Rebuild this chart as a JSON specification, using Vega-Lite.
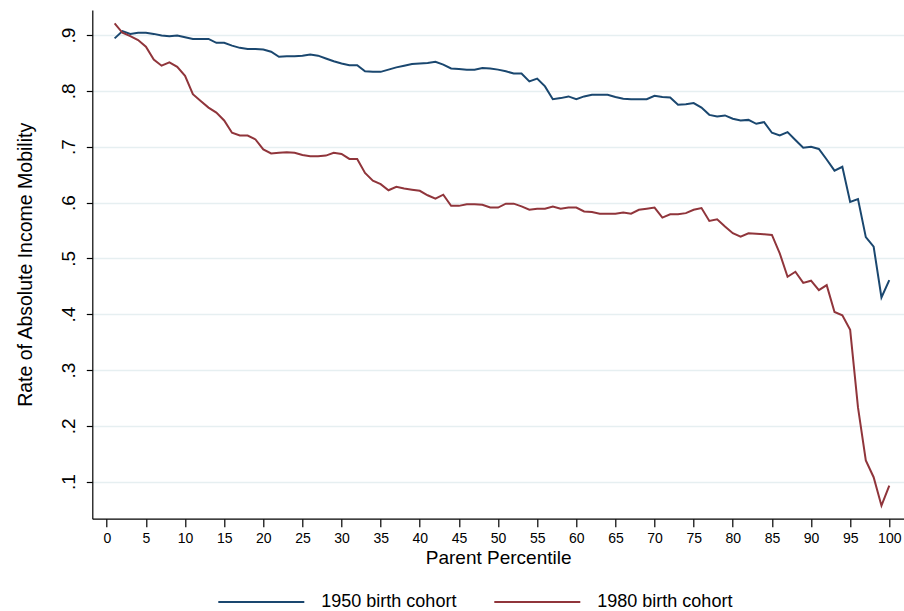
{
  "$schema": "https://vega.github.io/schema/vega-lite/v6.json",
  "autosize": {"type": "none"},
  "padding": {"left": 92.3, "top": 10, "right": 0, "bottom": 92.3},
  "width": 811.7,
  "height": 508.7,
  "background": "white",
  "config": {
    "font": "Liberation Sans",
    "view": {"stroke": null},
    "axis": {"labelFont": "Liberation Sans", "titleFont": "Liberation Sans", "labelColor": "#000", "titleColor": "#000", "titleFontWeight": "normal", "domainColor": "#000", "tickColor": "#000"}
  },
  "data": {
    "values": [
      {"cohort":"1950 birth cohort","p":1,"v":0.894},{"cohort":"1950 birth cohort","p":2,"v":0.907},{"cohort":"1950 birth cohort","p":3,"v":0.902},{"cohort":"1950 birth cohort","p":4,"v":0.904},{"cohort":"1950 birth cohort","p":5,"v":0.904},
      {"cohort":"1950 birth cohort","p":6,"v":0.902},{"cohort":"1950 birth cohort","p":7,"v":0.899},{"cohort":"1950 birth cohort","p":8,"v":0.898},{"cohort":"1950 birth cohort","p":9,"v":0.899},{"cohort":"1950 birth cohort","p":10,"v":0.896},
      {"cohort":"1950 birth cohort","p":11,"v":0.893},{"cohort":"1950 birth cohort","p":12,"v":0.893},{"cohort":"1950 birth cohort","p":13,"v":0.893},{"cohort":"1950 birth cohort","p":14,"v":0.886},{"cohort":"1950 birth cohort","p":15,"v":0.886},
      {"cohort":"1950 birth cohort","p":16,"v":0.881},{"cohort":"1950 birth cohort","p":17,"v":0.877},{"cohort":"1950 birth cohort","p":18,"v":0.875},{"cohort":"1950 birth cohort","p":19,"v":0.875},{"cohort":"1950 birth cohort","p":20,"v":0.874},
      {"cohort":"1950 birth cohort","p":21,"v":0.870},{"cohort":"1950 birth cohort","p":22,"v":0.861},{"cohort":"1950 birth cohort","p":23,"v":0.862},{"cohort":"1950 birth cohort","p":24,"v":0.862},{"cohort":"1950 birth cohort","p":25,"v":0.863},
      {"cohort":"1950 birth cohort","p":26,"v":0.865},{"cohort":"1950 birth cohort","p":27,"v":0.863},{"cohort":"1950 birth cohort","p":28,"v":0.858},{"cohort":"1950 birth cohort","p":29,"v":0.853},{"cohort":"1950 birth cohort","p":30,"v":0.849},
      {"cohort":"1950 birth cohort","p":31,"v":0.846},{"cohort":"1950 birth cohort","p":32,"v":0.846},{"cohort":"1950 birth cohort","p":33,"v":0.835},{"cohort":"1950 birth cohort","p":34,"v":0.834},{"cohort":"1950 birth cohort","p":35,"v":0.834},
      {"cohort":"1950 birth cohort","p":36,"v":0.838},{"cohort":"1950 birth cohort","p":37,"v":0.842},{"cohort":"1950 birth cohort","p":38,"v":0.845},{"cohort":"1950 birth cohort","p":39,"v":0.848},{"cohort":"1950 birth cohort","p":40,"v":0.849},
      {"cohort":"1950 birth cohort","p":41,"v":0.850},{"cohort":"1950 birth cohort","p":42,"v":0.852},{"cohort":"1950 birth cohort","p":43,"v":0.847},{"cohort":"1950 birth cohort","p":44,"v":0.840},{"cohort":"1950 birth cohort","p":45,"v":0.839},
      {"cohort":"1950 birth cohort","p":46,"v":0.838},{"cohort":"1950 birth cohort","p":47,"v":0.838},{"cohort":"1950 birth cohort","p":48,"v":0.841},{"cohort":"1950 birth cohort","p":49,"v":0.840},{"cohort":"1950 birth cohort","p":50,"v":0.838},
      {"cohort":"1950 birth cohort","p":51,"v":0.835},{"cohort":"1950 birth cohort","p":52,"v":0.831},{"cohort":"1950 birth cohort","p":53,"v":0.831},{"cohort":"1950 birth cohort","p":54,"v":0.817},{"cohort":"1950 birth cohort","p":55,"v":0.822},
      {"cohort":"1950 birth cohort","p":56,"v":0.808},{"cohort":"1950 birth cohort","p":57,"v":0.785},{"cohort":"1950 birth cohort","p":58,"v":0.787},{"cohort":"1950 birth cohort","p":59,"v":0.790},{"cohort":"1950 birth cohort","p":60,"v":0.785},
      {"cohort":"1950 birth cohort","p":61,"v":0.790},{"cohort":"1950 birth cohort","p":62,"v":0.793},{"cohort":"1950 birth cohort","p":63,"v":0.793},{"cohort":"1950 birth cohort","p":64,"v":0.793},{"cohort":"1950 birth cohort","p":65,"v":0.789},
      {"cohort":"1950 birth cohort","p":66,"v":0.786},{"cohort":"1950 birth cohort","p":67,"v":0.785},{"cohort":"1950 birth cohort","p":68,"v":0.785},{"cohort":"1950 birth cohort","p":69,"v":0.785},{"cohort":"1950 birth cohort","p":70,"v":0.791},
      {"cohort":"1950 birth cohort","p":71,"v":0.789},{"cohort":"1950 birth cohort","p":72,"v":0.788},{"cohort":"1950 birth cohort","p":73,"v":0.775},{"cohort":"1950 birth cohort","p":74,"v":0.776},{"cohort":"1950 birth cohort","p":75,"v":0.778},
      {"cohort":"1950 birth cohort","p":76,"v":0.770},{"cohort":"1950 birth cohort","p":77,"v":0.757},{"cohort":"1950 birth cohort","p":78,"v":0.754},{"cohort":"1950 birth cohort","p":79,"v":0.756},{"cohort":"1950 birth cohort","p":80,"v":0.750},
      {"cohort":"1950 birth cohort","p":81,"v":0.747},{"cohort":"1950 birth cohort","p":82,"v":0.748},{"cohort":"1950 birth cohort","p":83,"v":0.741},{"cohort":"1950 birth cohort","p":84,"v":0.744},{"cohort":"1950 birth cohort","p":85,"v":0.725},
      {"cohort":"1950 birth cohort","p":86,"v":0.720},{"cohort":"1950 birth cohort","p":87,"v":0.726},{"cohort":"1950 birth cohort","p":88,"v":0.712},{"cohort":"1950 birth cohort","p":89,"v":0.698},{"cohort":"1950 birth cohort","p":90,"v":0.700},
      {"cohort":"1950 birth cohort","p":91,"v":0.696},{"cohort":"1950 birth cohort","p":92,"v":0.677},{"cohort":"1950 birth cohort","p":93,"v":0.657},{"cohort":"1950 birth cohort","p":94,"v":0.664},{"cohort":"1950 birth cohort","p":95,"v":0.601},
      {"cohort":"1950 birth cohort","p":96,"v":0.606},{"cohort":"1950 birth cohort","p":97,"v":0.538},{"cohort":"1950 birth cohort","p":98,"v":0.521},{"cohort":"1950 birth cohort","p":99,"v":0.430},{"cohort":"1950 birth cohort","p":100,"v":0.461},
      {"cohort":"1980 birth cohort","p":1,"v":0.921},{"cohort":"1980 birth cohort","p":2,"v":0.904},{"cohort":"1980 birth cohort","p":3,"v":0.898},{"cohort":"1980 birth cohort","p":4,"v":0.891},{"cohort":"1980 birth cohort","p":5,"v":0.879},
      {"cohort":"1980 birth cohort","p":6,"v":0.856},{"cohort":"1980 birth cohort","p":7,"v":0.845},{"cohort":"1980 birth cohort","p":8,"v":0.851},{"cohort":"1980 birth cohort","p":9,"v":0.843},{"cohort":"1980 birth cohort","p":10,"v":0.827},
      {"cohort":"1980 birth cohort","p":11,"v":0.794},{"cohort":"1980 birth cohort","p":12,"v":0.782},{"cohort":"1980 birth cohort","p":13,"v":0.770},{"cohort":"1980 birth cohort","p":14,"v":0.761},{"cohort":"1980 birth cohort","p":15,"v":0.747},
      {"cohort":"1980 birth cohort","p":16,"v":0.725},{"cohort":"1980 birth cohort","p":17,"v":0.720},{"cohort":"1980 birth cohort","p":18,"v":0.720},{"cohort":"1980 birth cohort","p":19,"v":0.713},{"cohort":"1980 birth cohort","p":20,"v":0.695},
      {"cohort":"1980 birth cohort","p":21,"v":0.688},{"cohort":"1980 birth cohort","p":22,"v":0.689},{"cohort":"1980 birth cohort","p":23,"v":0.690},{"cohort":"1980 birth cohort","p":24,"v":0.689},{"cohort":"1980 birth cohort","p":25,"v":0.685},
      {"cohort":"1980 birth cohort","p":26,"v":0.683},{"cohort":"1980 birth cohort","p":27,"v":0.683},{"cohort":"1980 birth cohort","p":28,"v":0.684},{"cohort":"1980 birth cohort","p":29,"v":0.689},{"cohort":"1980 birth cohort","p":30,"v":0.687},
      {"cohort":"1980 birth cohort","p":31,"v":0.678},{"cohort":"1980 birth cohort","p":32,"v":0.678},{"cohort":"1980 birth cohort","p":33,"v":0.653},{"cohort":"1980 birth cohort","p":34,"v":0.639},{"cohort":"1980 birth cohort","p":35,"v":0.633},
      {"cohort":"1980 birth cohort","p":36,"v":0.622},{"cohort":"1980 birth cohort","p":37,"v":0.628},{"cohort":"1980 birth cohort","p":38,"v":0.625},{"cohort":"1980 birth cohort","p":39,"v":0.623},{"cohort":"1980 birth cohort","p":40,"v":0.621},
      {"cohort":"1980 birth cohort","p":41,"v":0.613},{"cohort":"1980 birth cohort","p":42,"v":0.607},{"cohort":"1980 birth cohort","p":43,"v":0.614},{"cohort":"1980 birth cohort","p":44,"v":0.594},{"cohort":"1980 birth cohort","p":45,"v":0.594},
      {"cohort":"1980 birth cohort","p":46,"v":0.597},{"cohort":"1980 birth cohort","p":47,"v":0.597},{"cohort":"1980 birth cohort","p":48,"v":0.596},{"cohort":"1980 birth cohort","p":49,"v":0.591},{"cohort":"1980 birth cohort","p":50,"v":0.591},
      {"cohort":"1980 birth cohort","p":51,"v":0.598},{"cohort":"1980 birth cohort","p":52,"v":0.598},{"cohort":"1980 birth cohort","p":53,"v":0.593},{"cohort":"1980 birth cohort","p":54,"v":0.587},{"cohort":"1980 birth cohort","p":55,"v":0.589},
      {"cohort":"1980 birth cohort","p":56,"v":0.589},{"cohort":"1980 birth cohort","p":57,"v":0.593},{"cohort":"1980 birth cohort","p":58,"v":0.589},{"cohort":"1980 birth cohort","p":59,"v":0.591},{"cohort":"1980 birth cohort","p":60,"v":0.591},
      {"cohort":"1980 birth cohort","p":61,"v":0.584},{"cohort":"1980 birth cohort","p":62,"v":0.583},{"cohort":"1980 birth cohort","p":63,"v":0.580},{"cohort":"1980 birth cohort","p":64,"v":0.580},{"cohort":"1980 birth cohort","p":65,"v":0.580},
      {"cohort":"1980 birth cohort","p":66,"v":0.582},{"cohort":"1980 birth cohort","p":67,"v":0.580},{"cohort":"1980 birth cohort","p":68,"v":0.587},{"cohort":"1980 birth cohort","p":69,"v":0.589},{"cohort":"1980 birth cohort","p":70,"v":0.591},
      {"cohort":"1980 birth cohort","p":71,"v":0.573},{"cohort":"1980 birth cohort","p":72,"v":0.579},{"cohort":"1980 birth cohort","p":73,"v":0.579},{"cohort":"1980 birth cohort","p":74,"v":0.581},{"cohort":"1980 birth cohort","p":75,"v":0.587},
      {"cohort":"1980 birth cohort","p":76,"v":0.590},{"cohort":"1980 birth cohort","p":77,"v":0.567},{"cohort":"1980 birth cohort","p":78,"v":0.570},{"cohort":"1980 birth cohort","p":79,"v":0.557},{"cohort":"1980 birth cohort","p":80,"v":0.545},
      {"cohort":"1980 birth cohort","p":81,"v":0.539},{"cohort":"1980 birth cohort","p":82,"v":0.545},{"cohort":"1980 birth cohort","p":83,"v":0.544},{"cohort":"1980 birth cohort","p":84,"v":0.543},{"cohort":"1980 birth cohort","p":85,"v":0.542},
      {"cohort":"1980 birth cohort","p":86,"v":0.509},{"cohort":"1980 birth cohort","p":87,"v":0.467},{"cohort":"1980 birth cohort","p":88,"v":0.476},{"cohort":"1980 birth cohort","p":89,"v":0.456},{"cohort":"1980 birth cohort","p":90,"v":0.460},
      {"cohort":"1980 birth cohort","p":91,"v":0.443},{"cohort":"1980 birth cohort","p":92,"v":0.452},{"cohort":"1980 birth cohort","p":93,"v":0.404},{"cohort":"1980 birth cohort","p":94,"v":0.398},{"cohort":"1980 birth cohort","p":95,"v":0.372},
      {"cohort":"1980 birth cohort","p":96,"v":0.233},{"cohort":"1980 birth cohort","p":97,"v":0.138},{"cohort":"1980 birth cohort","p":98,"v":0.108},{"cohort":"1980 birth cohort","p":99,"v":0.057},{"cohort":"1980 birth cohort","p":100,"v":0.093}
    ]
  },
  "mark": {"type": "line", "strokeWidth": 2, "clip": true},
  "encoding": {
    "x": {
      "field": "p", "type": "quantitative",
      "scale": {"domain": [-1.853, 101.88], "nice": false, "zero": false},
      "axis": {
        "title": "Parent Percentile", "titleFontSize": 19, "titlePadding": 3,
        "values": [0,5,10,15,20,25,30,35,40,45,50,55,60,65,70,75,80,85,90,95,100],
        "labelFontSize": 14, "labelPadding": 5, "tickSize": 8, "tickWidth": 1.2,
        "domainWidth": 1.2, "grid": false, "labelOverlap": false, "labelFlush": false
      }
    },
    "y": {
      "field": "v", "type": "quantitative",
      "scale": {"domain": [0.0337, 0.9448], "nice": false, "zero": false},
      "axis": {
        "title": "Rate of Absolute Income Mobility", "titleFontSize": 19.5, "titlePadding": 24,
        "values": [0.1,0.2,0.3,0.4,0.5,0.6,0.7,0.8,0.9],
        "labelExpr": "replace(format(datum.value, '.1f'), '0.', '.')",
        "labelFontSize": 19, "labelAngle": -90, "labelAlign": "center", "labelBaseline": "bottom",
        "labelPadding": 8, "tickSize": 6, "tickWidth": 1.2, "domainWidth": 1.2,
        "grid": true, "gridColor": "#e6eff1", "gridWidth": 1.6, "labelOverlap": false, "labelFlush": false
      }
    },
    "color": {
      "field": "cohort", "type": "nominal",
      "scale": {"domain": ["1950 birth cohort", "1980 birth cohort"], "range": ["#1a476f", "#90353b"]},
      "legend": {
        "title": null, "orient": "none", "legendX": 125, "legendY": 548, "direction": "horizontal",
        "symbolType": "stroke", "symbolSize": 7396, "symbolStrokeWidth": 2,
        "labelFontSize": 18, "labelFont": "Liberation Sans", "labelColor": "#000", "labelOffset": 16, "columnPadding": 33
      }
    }
  }
}
